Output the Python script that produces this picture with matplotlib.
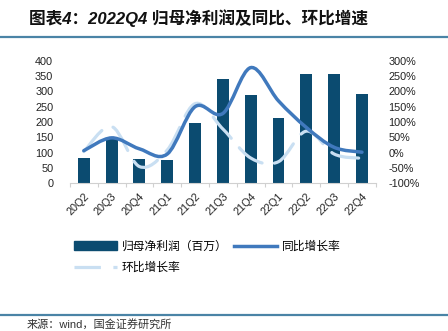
import numpy as np
import matplotlib
matplotlib.use("Agg")
import matplotlib.pyplot as plt
from matplotlib.path import Path
from matplotlib.patches import PathPatch, Patch
from matplotlib.lines import Line2D

plt.rcParams['font.family'] = ['Liberation Sans', 'Noto Sans CJK SC']
plt.rcParams['lines.scale_dashes'] = False

# data
quarters = ['20Q2', '20Q3', '20Q4', '21Q1', '21Q2', '21Q3', '21Q4',
            '22Q1', '22Q2', '22Q3', '22Q4']
profit = [83, 145, 78, 77, 197, 340, 287, 213, 357, 357, 290]
yoy = [6, 48, 12, -5, 150, 128, 278, 169, 82, 17, 1]
qoq = [3, 85, -46, 8, 160, 77, -18, -30, 70, -5, -19]

bar_color = '#0b4b70'
yoy_color = '#4079bd'
qoq_color = '#c9dff2'


def smooth_path(xs, ys):
    # excel style smoothed line: bezier through every point
    pts = np.column_stack([xs, ys]).astype(float)
    verts = [pts[0]]
    codes = [Path.MOVETO]
    n = len(pts)
    for i in range(n - 1):
        p0 = pts[max(i - 1, 0)]
        p1 = pts[i]
        p2 = pts[i + 1]
        p3 = pts[min(i + 2, n - 1)]
        c1 = p1 + (p2 - p0) / 6
        c2 = p2 - (p3 - p1) / 6
        verts += [c1, c2, p2]
        codes += [Path.CURVE4] * 3
    return Path(verts, codes)


fig = plt.figure(figsize=(4.48, 3.31), dpi=100)
ax = fig.add_axes([0.156, 0.447, 0.683, 0.369])
x = np.arange(len(quarters))
ax.bar(x, profit, width=0.43, color=bar_color, zorder=2)
ax.set_xlim(-0.5, len(quarters) - 0.5)
ax.set_ylim(0, 400)
ax.set_yticks(range(0, 401, 50))
ax.set_xticks(x)
ax.set_xticklabels(quarters, rotation=45, ha='right', va='top',
                   rotation_mode='anchor', fontsize=7.8, color='#222222')
ax.set_xticks(np.arange(-0.5, len(quarters)), minor=True)
ax.tick_params(axis='x', which='major', length=0, pad=6)
ax.tick_params(axis='x', which='minor', length=3, color='#d0d0d0', width=0.8)
ax.tick_params(axis='y', length=0, labelsize=7.8, labelcolor='#222222', pad=12)
for s in ['top', 'left', 'right']:
    ax.spines[s].set_visible(False)
ax.spines['bottom'].set_color('#d0d0d0')
ax.spines['bottom'].set_linewidth(0.8)

ax2 = ax.twinx()
ax2.set_ylim(-100, 300)
ax2.set_yticks(range(-100, 301, 50))
ax2.set_yticklabels([f'{v}%' for v in range(-100, 301, 50)])
ax2.tick_params(axis='y', length=0, labelsize=7.8, labelcolor='#222222', pad=9)
for s in ax2.spines.values():
    s.set_visible(False)

qoq_patch = PathPatch(smooth_path(x, qoq), fill=False, edgecolor=qoq_color,
                      lw=2.3, linestyle=(0, (20, 9)), capstyle='round', zorder=3)
ax2.add_patch(qoq_patch)
yoy_patch = PathPatch(smooth_path(x, yoy), fill=False, edgecolor=yoy_color,
                      lw=2.5, capstyle='round', zorder=4)
ax2.add_patch(yoy_patch)

handles = [Patch(color=bar_color),
           Line2D([], [], color=qoq_color, lw=2.3, dashes=(19, 9)),
           Line2D([], [], color=yoy_color, lw=2.5)]
labels = ['归母净利润（百万）', '环比增长率', '同比增长率']
fig.legend(handles, labels, ncol=2, loc='upper left', bbox_to_anchor=(0.155, 0.287),
           frameon=False, fontsize=8.5, handlelength=3.6, handletextpad=0.45,
           columnspacing=0.55, labelspacing=0.8, borderaxespad=0)

fig.text(0.065, 0.945, '图表4：2022Q4 归母净利润及同比、环比增速', fontsize=12,
         fontweight='bold', color='#111111', va='center', style='italic')
fig.add_artist(Line2D([0, 1], [1 - 37 / 331] * 2, color='#4a84a6', lw=1.6))
fig.add_artist(Line2D([0, 1], [1 - 315 / 331] * 2, color='#4a84a6', lw=1.6))
fig.text(0.06, 1 - 330 / 331, '来源：wind，国金证券研究所', fontsize=8,
         color='#333333', va='bottom')

fig.savefig('out.png', dpi=100)
